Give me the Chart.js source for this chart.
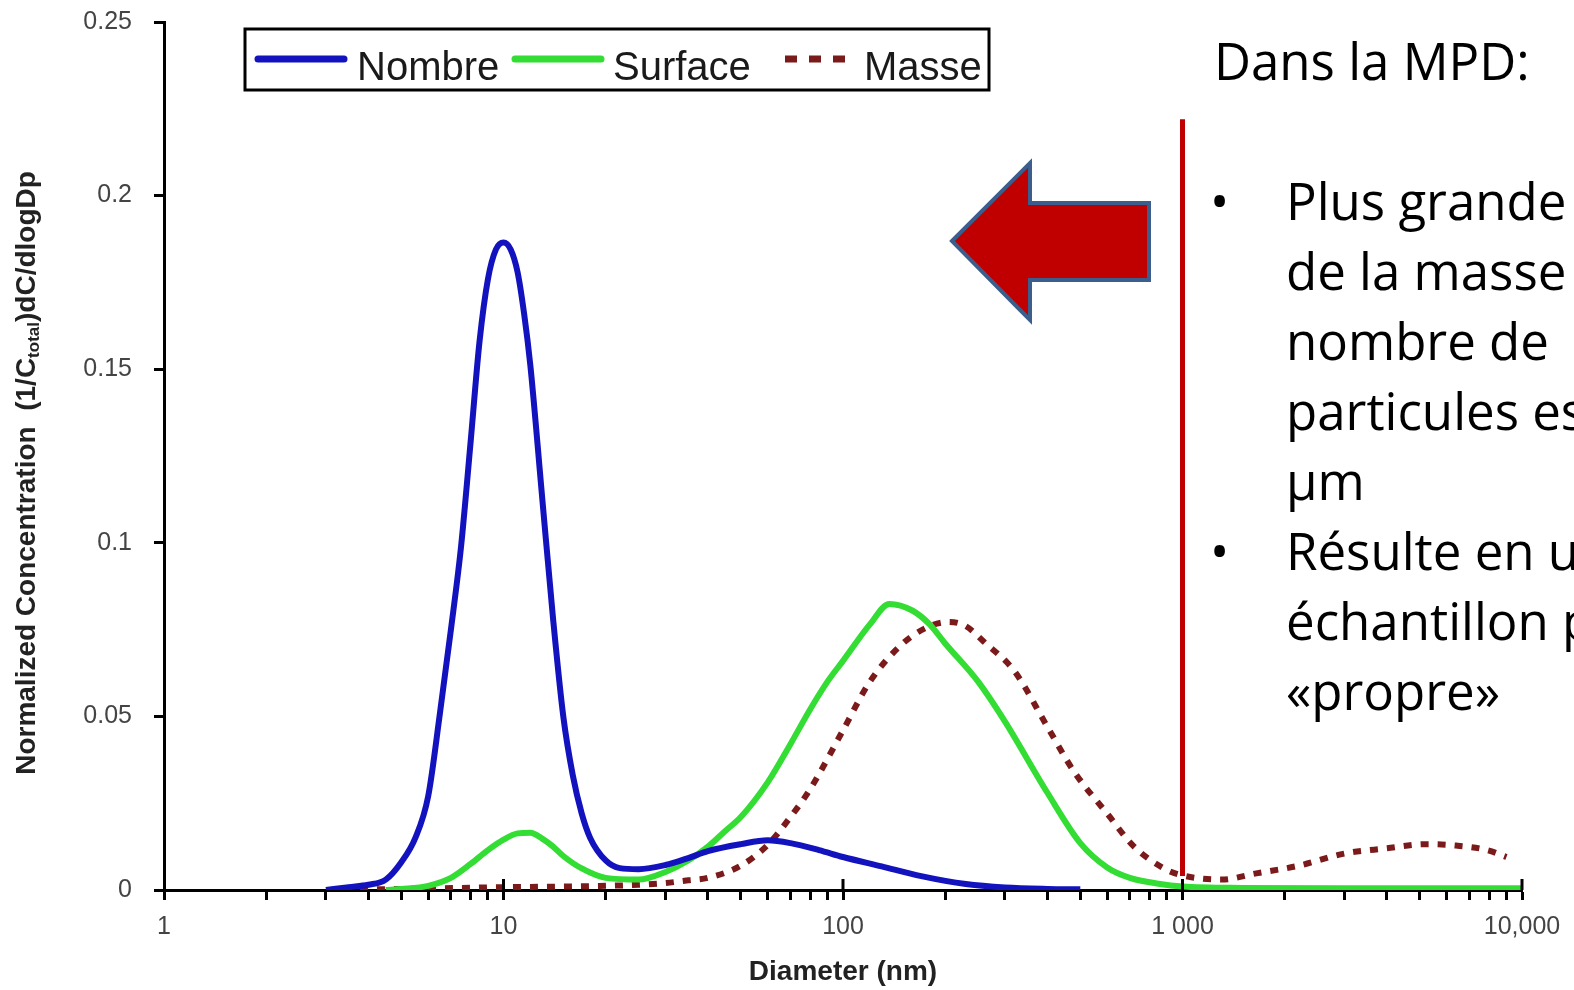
<!DOCTYPE html>
<html lang="fr">
<head>
<meta charset="utf-8">
<title>Distribution granulométrique normalisée</title>
<script src="https://cdn.jsdelivr.net/npm/chart.js@4.4.1/dist/chart.umd.min.js"></script>
<style>
  html, body { margin: 0; padding: 0; background: #fff; overflow: hidden; }
  #wrap { position: relative; width: 1574px; height: 990px; }
  #chart-box { position: absolute; left: 0; top: 0; width: 1574px; height: 990px; }
  .note {
    position: absolute;
    font-family: "Open Sans", "Noto Sans", sans-serif;
    font-size: 51px;
    line-height: 70px;
    color: #000;
    white-space: nowrap;
  }
  #arrow { position: absolute; left: 0; top: 0; }
</style>
</head>
<body>
<div id="wrap">
  <div id="chart-box"><canvas id="size-plot"></canvas></div>
  <svg id="arrow" width="1574" height="990">
    <polygon points="952,241 1030,163 1030,203 1149,203 1149,280 1030,280 1030,320"
             fill="#C00000" stroke="#3B5E8C" stroke-width="4" stroke-linejoin="miter"/>
  </svg>
  <div class="note" style="left:1214px; top:25px;">Dans la MPD:</div>
  <div class="note" style="left:1210px; top:165px;">•</div>
  <div class="note" style="left:1286px; top:165px;">Plus grande partie<br>de la masse et du<br>nombre de<br>particules est<br>µm</div>
  <div class="note" style="left:1210px; top:515px;">•</div>
  <div class="note" style="left:1286px; top:515px;">Résulte en un<br>échantillon plus<br>«propre»</div>
</div>

<script>
// Size distributions: diameter (nm) and normalized dC/dlogDp

const nombreDiam = [3, 3.5, 4, 4.5, 5, 5.5, 6, 6.5, 7, 7.5, 8, 8.5, 9, 9.5, 10, 10.5, 11, 11.5, 12, 13, 14, 15, 16, 17, 18, 20, 22, 25, 30, 35, 40, 50, 60, 70, 85, 100, 130, 170, 230, 300, 400, 500];
const nombreVals = [0, 0.0008, 0.0015, 0.003, 0.008, 0.015, 0.027, 0.051, 0.075, 0.099, 0.129, 0.158, 0.176, 0.1845, 0.1865, 0.1845, 0.178, 0.166, 0.151, 0.113, 0.078, 0.05, 0.033, 0.022, 0.015, 0.0085, 0.0063, 0.006, 0.0072, 0.0092, 0.0112, 0.0132, 0.0143, 0.0135, 0.0115, 0.0095, 0.0068, 0.004, 0.0017, 0.0007, 0.0003, 0.0002];

const surfaceDiam = [4.5, 5, 6, 7, 8, 9, 10, 11, 12, 13, 14, 15, 17, 20, 25, 30, 35, 40, 45, 50, 60, 70, 80, 90, 100, 120, 137, 160, 180, 200, 250, 300, 400, 500, 600, 700, 850, 1000, 1500, 3000, 10000];
const surfaceVals = [0, 0.0003, 0.0012, 0.0035, 0.0075, 0.0115, 0.0145, 0.0163, 0.0165, 0.0148, 0.0125, 0.0098, 0.0062, 0.0035, 0.003, 0.0052, 0.0085, 0.0125, 0.017, 0.021, 0.031, 0.042, 0.052, 0.06, 0.066, 0.0765, 0.0824, 0.0805, 0.0765, 0.071, 0.06, 0.0485, 0.028, 0.0135, 0.0065, 0.0035, 0.0018, 0.001, 0.0006, 0.0005, 0.0005];

const masseDiam = [3, 5, 10, 15, 20, 25, 30, 35, 40, 50, 60, 70, 80, 100, 120, 150, 180, 205, 230, 260, 320, 400, 480, 600, 720, 890, 1000, 1300, 1650, 2200, 3000, 4000, 5200, 6400, 7900, 9000];
const masseVals = [0, 0.0003, 0.0008, 0.001, 0.0012, 0.0015, 0.002, 0.0028, 0.0035, 0.007, 0.013, 0.021, 0.029, 0.046, 0.06, 0.071, 0.076, 0.0772, 0.076, 0.0715, 0.063, 0.047, 0.034, 0.022, 0.0125, 0.006, 0.0042, 0.003, 0.0048, 0.007, 0.0105, 0.012, 0.0132, 0.0128, 0.0115, 0.0095];

// vertical marker at 1 µm
const cutDiam = [1000, 1000];
const cutVals = [0.004, 0.222];

const seriesNames = ['Nombre', 'Surface', 'Masse'];

const xMajorTicks = [1, 10, 100, 1000, 10000];
const xTickLabels = ['1', '10', '100', '1 000', '10,000'];
const yTickLabels = ['0', '0.05', '0.1', '0.15', '0.2', '0.25'];

const axisFont = '"Liberation Sans", Arial, sans-serif';

function toPoints(diams, vals) {
  return diams.map((d, i) => ({ x: d, y: vals[i] }));
}

// all log ticks 1..9 x 10^k, labels only on the decades
function buildLogTicks(scale) {
  const ticks = [];
  for (let k = 0; k < xMajorTicks.length - 1; k++) {
    for (let s = 1; s <= 9; s++) {
      ticks.push({ value: s * xMajorTicks[k], major: s === 1 });
    }
  }
  ticks.push({ value: xMajorTicks[xMajorTicks.length - 1], major: true });
  scale.ticks = ticks;
}

// boxed legend drawn over the plot, like the original
const boxedLegend = {
  id: 'boxedLegend',
  afterDraw(chart) {
    const ctx = chart.ctx;
    const sampleX = [258, 515, 785];
    const textX = [357, 613, 864];
    ctx.save();
    ctx.lineWidth = 3;
    ctx.strokeStyle = '#000';
    ctx.strokeRect(245, 29, 744, 61);
    ctx.font = '40px ' + axisFont;
    ctx.fillStyle = '#1a1a1a';
    ctx.textBaseline = 'alphabetic';
    seriesNames.forEach((name, i) => {
      const ds = chart.data.datasets[i];
      ctx.strokeStyle = ds.borderColor;
      ctx.lineWidth = 7;
      ctx.beginPath();
      if (ds.borderDash && ds.borderDash.length) {
        ctx.setLineDash([12, 12]);
        ctx.lineCap = 'butt';
        ctx.moveTo(sampleX[i], 59);
        ctx.lineTo(sampleX[i] + 62, 59);
      } else {
        ctx.setLineDash([]);
        ctx.lineCap = 'round';
        ctx.moveTo(sampleX[i], 59);
        ctx.lineTo(sampleX[i] + 86, 59);
      }
      ctx.stroke();
      ctx.fillText(name, textX[i], 80);
    });
    ctx.restore();
  }
};

// y title with a subscript, rotated
const yAxisTitle = {
  id: 'yAxisTitle',
  afterDraw(chart) {
    const ctx = chart.ctx;
    const main = 'bold 28px ' + axisFont;
    const sub = 'bold 17px ' + axisFont;
    const parts = [
      ['Normalized Concentration  (1/C', main, 0],
      ['total', sub, 7],
      [')dC/dlogDp', main, 0]
    ];
    ctx.save();
    let total = 0;
    parts.forEach(p => { ctx.font = p[1]; total += ctx.measureText(p[0]).width; });
    ctx.translate(27, 473);
    ctx.rotate(-Math.PI / 2);
    ctx.fillStyle = '#222';
    ctx.textBaseline = 'middle';
    let x = -total / 2;
    parts.forEach(p => {
      ctx.font = p[1];
      ctx.fillText(p[0], x, p[2]);
      x += ctx.measureText(p[0]).width;
    });
    ctx.restore();
  }
};

// decade ticks also cross above the x axis
const crossTicks = {
  id: 'crossTicks',
  afterDatasetsDraw(chart) {
    const ctx = chart.ctx;
    const xs = chart.scales.x;
    const y0 = chart.scales.y.getPixelForValue(0);
    ctx.save();
    ctx.strokeStyle = '#000';
    ctx.lineWidth = 3;
    xMajorTicks.slice(1).forEach(v => {
      const px = xs.getPixelForValue(v);
      ctx.beginPath();
      ctx.moveTo(px, y0);
      ctx.lineTo(px, y0 - 11);
      ctx.stroke();
    });
    ctx.restore();
  }
};

function createSizePlot() {
  const ctx = document.getElementById('size-plot').getContext('2d');
  return new Chart(ctx, {
    type: 'line',
    data: {
      datasets: [
        {
          label: seriesNames[0],
          data: toPoints(nombreDiam, nombreVals),
          borderColor: '#1212BE',
          borderWidth: 6,
          cubicInterpolationMode: 'monotone'
        },
        {
          label: seriesNames[1],
          data: toPoints(surfaceDiam, surfaceVals),
          borderColor: '#33DD33',
          borderWidth: 6,
          cubicInterpolationMode: 'monotone'
        },
        {
          label: seriesNames[2],
          data: toPoints(masseDiam, masseVals),
          borderColor: '#7B1A1A',
          borderWidth: 6,
          borderDash: [8, 9],
          borderCapStyle: 'butt',
          cubicInterpolationMode: 'monotone'
        },
        {
          label: 'MPD',
          data: toPoints(cutDiam, cutVals),
          borderColor: '#C00000',
          borderWidth: 5,
          tension: 0
        }
      ]
    },
    options: {
      responsive: true,
      maintainAspectRatio: false,
      animation: false,
      events: [],
      layout: { padding: { left: 0, top: 22, right: 52, bottom: 0 } },
      elements: { point: { radius: 0 } },
      plugins: {
        legend: { display: false },
        tooltip: { enabled: false }
      },
      scales: {
        x: {
          type: 'logarithmic',
          min: 1,
          max: 10000,
          afterBuildTicks: buildLogTicks,
          afterFit: (scale) => {
            scale.height = 100;
            scale.paddingLeft = 0;
            scale.paddingRight = 0;
          },
          border: { color: '#000', width: 3 },
          grid: {
            drawOnChartArea: false,
            drawTicks: true,
            tickLength: 10,
            tickWidth: 3,
            tickColor: '#000'
          },
          ticks: {
            autoSkip: false,
            maxRotation: 0,
            padding: 12,
            color: '#444',
            font: { family: axisFont, size: 25 },
            callback: (value) => {
              const i = xMajorTicks.indexOf(value);
              return i >= 0 ? xTickLabels[i] : '';
            }
          },
          title: {
            display: true,
            text: 'Diameter (nm)',
            color: '#222',
            font: { family: axisFont, size: 28, weight: 'bold' },
            padding: { top: 0, bottom: 1 }
          }
        },
        y: {
          min: 0,
          max: 0.25,
          afterFit: (scale) => {
            scale.width = 164;
            scale.paddingTop = 0;
            scale.paddingBottom = 0;
          },
          border: { color: '#000', width: 3 },
          grid: {
            drawOnChartArea: false,
            drawTicks: true,
            tickLength: 10,
            tickWidth: 3,
            tickColor: '#000'
          },
          ticks: {
            stepSize: 0.05,
            padding: 22,
            color: '#444',
            font: { family: axisFont, size: 25 },
            callback: (value, index) => yTickLabels[index]
          }
        }
      }
    },
    plugins: [boxedLegend, yAxisTitle, crossTicks]
  });
}

createSizePlot();
</script>
</body>
</html>
